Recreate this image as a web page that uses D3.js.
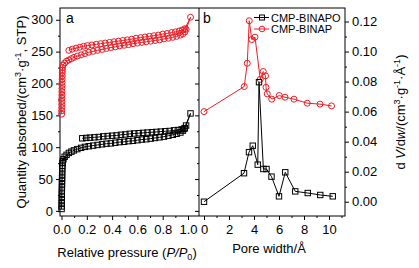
<!DOCTYPE html>
<html>
<head>
<meta charset="utf-8">
<script src="https://cdn.jsdelivr.net/npm/d3@7"></script>
<style>
  body { margin: 0; background: #fff; }
  svg { display: block; font-family: "Liberation Sans", Arial, sans-serif; }
</style>
</head>
<body>
<svg id="chart" width="419" height="268"></svg>
<script>
// --- Panel a: N2 isotherms (relative pressure, quantity adsorbed) ---
const binapoAdsP = [0.0005, 0.001, 0.001, 0.0015, 0.002, 0.002, 0.0025, 0.003, 0.0035, 0.004, 0.0045, 0.005, 0.0055, 0.006, 0.007, 0.008, 0.01, 0.015, 0.025, 0.04, 0.058, 0.078, 0.098, 0.125, 0.155, 0.185, 0.215, 0.25, 0.285, 0.32, 0.355, 0.39, 0.425, 0.46, 0.495, 0.53, 0.565, 0.6, 0.635, 0.67, 0.705, 0.74, 0.775, 0.81, 0.845, 0.88, 0.91, 0.94, 0.96, 0.975, 0.985, 1.02];
const binapoAdsV = [3, 7, 12, 17, 22, 27, 32, 37, 42, 47, 52, 57, 62, 67, 71, 75, 78, 81, 85, 88, 91, 93, 95, 97, 99, 100.5, 101.5, 102.5, 103.5, 104.5, 105.5, 106, 107, 108, 108.5, 109.5, 110, 111, 112, 112.5, 113.5, 114.5, 115.5, 116.5, 118, 119.5, 121, 123, 126, 130, 134, 153];
const binapoDesP = [0.97, 0.95, 0.92, 0.89, 0.855, 0.82, 0.785, 0.75, 0.715, 0.68, 0.645, 0.61, 0.575, 0.54, 0.505, 0.47, 0.435, 0.4, 0.365, 0.33, 0.295, 0.26, 0.225, 0.195, 0.164];
const binapoDesV = [129, 128, 127, 126.5, 125.5, 125, 124.5, 124, 123.5, 123, 122.5, 122, 121.5, 121, 120, 119.5, 118.5, 118, 117.5, 117, 116, 115.5, 115, 114.5, 114];

const binapAdsP = [0.001, 0.001, 0.0015, 0.002, 0.002, 0.0025, 0.003, 0.003, 0.0035, 0.004, 0.0045, 0.005, 0.0055, 0.006, 0.007, 0.008, 0.012, 0.024, 0.04, 0.058, 0.078, 0.098, 0.125, 0.155, 0.185, 0.215, 0.25, 0.285, 0.32, 0.355, 0.39, 0.425, 0.46, 0.495, 0.53, 0.565, 0.6, 0.635, 0.67, 0.705, 0.74, 0.775, 0.81, 0.845, 0.88, 0.91, 0.94, 0.96, 0.975, 0.985, 1.02];
const binapAdsV = [152, 157, 162, 167, 172, 177, 182, 187, 192, 197, 202, 207, 212, 217, 221, 225, 229, 232, 235, 237, 239, 241, 243, 245, 247, 249, 250.5, 252, 253.5, 255, 256.5, 257.5, 259, 260, 261, 262.5, 263.5, 264.5, 265.5, 266.5, 267.5, 268.5, 270, 271, 272.5, 274, 276, 278, 281, 285, 304];
const binapDesP = [0.975, 0.955, 0.93, 0.9, 0.87, 0.835, 0.8, 0.765, 0.73, 0.695, 0.66, 0.625, 0.59, 0.555, 0.52, 0.485, 0.45, 0.415, 0.38, 0.345, 0.31, 0.275, 0.24, 0.205, 0.175, 0.145, 0.115, 0.085, 0.058];
const binapDesV = [286, 284, 282.5, 281, 280, 278.5, 277.5, 276, 275, 274, 273, 272, 271, 269.5, 268.5, 267.5, 266.5, 265.5, 264.5, 263.5, 262.5, 261.5, 260.5, 259.5, 258.5, 257, 255.5, 254, 252];

// --- Panel b: pore size distribution (pore width in Å, dV/dw) ---
const binapoWidth = [0.0, 3.2, 3.6, 3.9, 4.3, 4.4, 4.75, 5.0, 5.4, 6.0, 6.5, 7.3, 8.3, 9.3, 10.3];
const binapoDvdw  = [0.000, 0.019, 0.033, 0.0373, 0.0247, 0.0796, 0.0218, 0.0218, 0.0167, 0.0036, 0.0196, 0.0069, 0.0058, 0.0045, 0.0036];
const binapWidth = [0.0, 3.22, 3.46, 3.62, 3.82, 4.08, 4.5, 4.74, 4.92, 4.96, 5.06, 5.42, 6.02, 6.48, 7.2, 8.26, 9.28, 10.2];
const binapDvdw  = [0.060, 0.0767, 0.0922, 0.1205, 0.108, 0.1096, 0.0815, 0.0867, 0.0838, 0.0762, 0.0718, 0.0683, 0.0707, 0.0696, 0.0683, 0.0656, 0.065, 0.0638];

// Tick values
const isoXTicks = [0, 0.2, 0.4, 0.6, 0.8, 1.0];
const isoXMinor = [0.1, 0.3, 0.5, 0.7, 0.9];
const isoYTicks = [0, 50, 100, 150, 200, 250, 300];
const isoYMinor = [25, 75, 125, 175, 225, 275];
const poreXTicks = [0, 2, 4, 6, 8, 10];
const poreXMinor = [1, 3, 5, 7, 9, 11];
const poreYTicks = [0, 0.02, 0.04, 0.06, 0.08, 0.10, 0.12];
const poreYMinor = [0.01, 0.03, 0.05, 0.07, 0.09, 0.11];

const seriesNames = ["CMP-BINAPO", "CMP-BINAP"];
const black = "#000";
const red = "#ee1c25";

// Layout
const plotTop = 8, plotBottom = 216, aLeft = 60, mid = 199, bRight = 345;
const svg = d3.select("#chart");

const xA = d3.scaleLinear().domain([-0.012, 1.087]).range([aLeft, mid]);
const yA = d3.scaleLinear().domain([-8, 318.5]).range([plotBottom, plotTop]);
const xB = d3.scaleLinear().domain([-0.4, 11.28]).range([mid, bRight]);
const yB = d3.scaleLinear().domain([-0.0095, 0.129]).range([plotBottom, plotTop]);

// helper: draw an axis and strip the domain path
function drawAxis(axis, transform, fmt, size) {
  const g = svg.append("g").attr("transform", transform)
    .call(axis.tickSizeOuter(0).tickSize(size).tickFormat(fmt));
  g.select(".domain").remove();
  g.selectAll("line").attr("stroke", "#000");
  g.selectAll("text").attr("font-size", 13).attr("fill", "#000")
    .attr("font-family", '"Liberation Sans", Arial, sans-serif');
  return g;
}

// panel a axes
drawAxis(d3.axisLeft(yA).tickValues(isoYTicks).tickPadding(3), `translate(${aLeft},0)`, d3.format("d"), 4);
drawAxis(d3.axisLeft(yA).tickValues(isoYMinor), `translate(${aLeft},0)`, "", 2);
drawAxis(d3.axisRight(yA).tickValues(isoYTicks), `translate(${mid},0)`, "", -4);
drawAxis(d3.axisRight(yA).tickValues(isoYMinor), `translate(${mid},0)`, "", -2);
drawAxis(d3.axisBottom(xA).tickValues(isoXTicks).tickPadding(5), `translate(0,${plotBottom})`, d3.format(".1f"), 4);
drawAxis(d3.axisBottom(xA).tickValues(isoXMinor), `translate(0,${plotBottom})`, "", 2);

// panel b axes
drawAxis(d3.axisRight(yB).tickValues(poreYTicks).tickPadding(3), `translate(${bRight},0)`, d3.format(".2f"), 4);
drawAxis(d3.axisRight(yB).tickValues(poreYMinor), `translate(${bRight},0)`, "", 2);
drawAxis(d3.axisBottom(xB).tickValues(poreXTicks).tickPadding(5), `translate(0,${plotBottom})`, d3.format("d"), 4);
drawAxis(d3.axisBottom(xB).tickValues(poreXMinor.filter(d => d < 11.2)), `translate(0,${plotBottom})`, "", 2);

// frame
svg.append("rect").attr("x", aLeft).attr("y", plotTop)
  .attr("width", bRight - aLeft).attr("height", plotBottom - plotTop)
  .attr("fill", "none").attr("stroke", "#000").attr("stroke-width", 1);
svg.append("line").attr("x1", mid).attr("x2", mid).attr("y1", plotTop).attr("y2", plotBottom)
  .attr("stroke", "#000");

// series
function zip(xs, ys) { return xs.map((x, i) => [x, ys[i]]); }

function drawSeries(pts, xs, ys, color, shape) {
  const line = d3.line().x(d => xs(d[0])).y(d => ys(d[1]));
  svg.append("path").datum(pts).attr("d", line)
    .attr("fill", "none").attr("stroke", color).attr("stroke-width", 1);
  const g = svg.append("g");
  if (shape === "square") {
    g.selectAll("rect").data(pts).enter().append("rect")
      .attr("x", d => xs(d[0]) - 2.7).attr("y", d => ys(d[1]) - 2.7)
      .attr("width", 5.4).attr("height", 5.4)
      .attr("fill", "none").attr("stroke", color).attr("stroke-width", 1);
  } else {
    g.selectAll("circle").data(pts).enter().append("circle")
      .attr("cx", d => xs(d[0])).attr("cy", d => ys(d[1])).attr("r", 3)
      .attr("fill", "none").attr("stroke", color).attr("stroke-width", 1);
  }
}

drawSeries(zip(binapoAdsP, binapoAdsV).concat(zip(binapoDesP, binapoDesV)), xA, yA, black, "square");
drawSeries(zip(binapAdsP, binapAdsV).concat(zip(binapDesP, binapDesV)), xA, yA, red, "circle");
drawSeries(zip(binapWidth, binapDvdw), xB, yB, red, "circle");
drawSeries(zip(binapoWidth, binapoDvdw), xB, yB, black, "square");

// panel letters
svg.append("text").attr("x", 66).attr("y", 23).attr("font-size", 14).text("a");
svg.append("text").attr("x", 203).attr("y", 23).attr("font-size", 14).text("b");

// legend
const legendRows = [
  { name: seriesNames[0], color: black, shape: "square", y: 17.5 },
  { name: seriesNames[1], color: red, shape: "circle", y: 29 }
];
legendRows.forEach(r => {
  svg.append("line").attr("x1", 254).attr("x2", 269).attr("y1", r.y).attr("y2", r.y)
    .attr("stroke", r.color);
  if (r.shape === "square") {
    svg.append("rect").attr("x", 262 - 2.5).attr("y", r.y - 2.5).attr("width", 5).attr("height", 5)
      .attr("fill", "none").attr("stroke", r.color);
  } else {
    svg.append("circle").attr("cx", 262).attr("cy", r.y).attr("r", 2.8)
      .attr("fill", "none").attr("stroke", r.color);
  }
  svg.append("text").attr("x", 271).attr("y", r.y + 4).attr("font-size", 11).text(r.name);
});

// axis titles
const leftTitle = svg.append("text")
  .attr("transform", `translate(26,112) rotate(-90)`)
  .attr("text-anchor", "middle").attr("font-size", 13);
leftTitle.append("tspan").text("Quantity absorbed/(cm");
leftTitle.append("tspan").attr("dy", -5).attr("font-size", 9).text("3");
leftTitle.append("tspan").attr("dy", 5).text("·g");
leftTitle.append("tspan").attr("dy", -5).attr("font-size", 9).text("-1");
leftTitle.append("tspan").attr("dy", 5).text(", STP)");

const rightTitle = svg.append("text")
  .attr("transform", `translate(405,112) rotate(-90)`)
  .attr("text-anchor", "middle").attr("font-size", 13);
rightTitle.append("tspan").text("d ");
rightTitle.append("tspan").attr("font-style", "italic").text("V");
rightTitle.append("tspan").text("/d");
rightTitle.append("tspan").attr("font-style", "italic").text("w");
rightTitle.append("tspan").text("/(cm");
rightTitle.append("tspan").attr("dy", -5).attr("font-size", 9).text("3");
rightTitle.append("tspan").attr("dy", 5).text("·g");
rightTitle.append("tspan").attr("dy", -5).attr("font-size", 9).text("-1");
rightTitle.append("tspan").attr("dy", 5).text("·Å");
rightTitle.append("tspan").attr("dy", -5).attr("font-size", 9).text("-1");
rightTitle.append("tspan").attr("dy", 5).text(")");

const xTitleA = svg.append("text").attr("x", 127).attr("y", 257)
  .attr("text-anchor", "middle").attr("font-size", 13);
xTitleA.append("tspan").text("Relative pressure (");
xTitleA.append("tspan").attr("font-style", "italic").text("P/P");
xTitleA.append("tspan").attr("dy", 3).attr("font-size", 9).text("0");
xTitleA.append("tspan").attr("dy", -3).text(")");

svg.append("text").attr("x", 269).attr("y", 253)
  .attr("text-anchor", "middle").attr("font-size", 13).text("Pore width/Å");
</script>
</body>
</html>
